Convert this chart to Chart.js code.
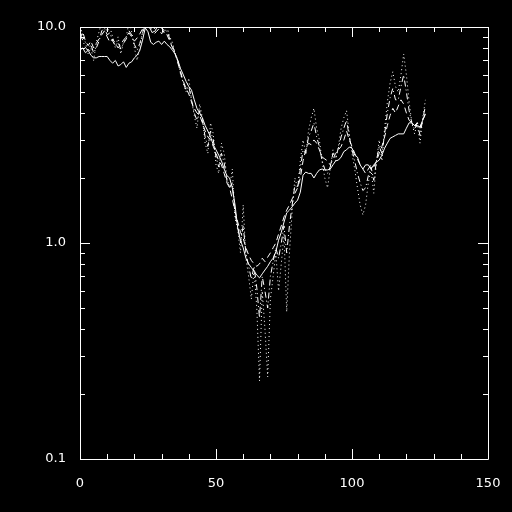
<!DOCTYPE html>
<html>
<head>
<meta charset="utf-8">
<script src="https://cdn.jsdelivr.net/npm/chart.js@4/dist/chart.umd.min.js"></script>
<style>
body { margin: 0; background: #000; }
</style>
</head>
<body>
<canvas id="lineChart" width="512" height="512"></canvas>
<script>
// four traces, sample 0..127, log axis
var solid = [
 7.8, 8.0, 7.6, 7.8, 7.4, 7.2, 7.2, 7.3, 7.3, 7.3,
 7.3, 7.0, 6.8, 7.0, 6.6, 6.7, 6.9, 6.5, 6.8, 6.9,
 7.2, 7.4, 7.8, 8.7, 9.9, 9.5, 8.5, 8.3, 8.5, 8.6,
 8.3, 8.6, 8.3, 8.1, 7.8, 7.5, 7.0, 6.4, 6.0, 5.6,
 5.3, 5.1, 4.6, 4.2, 4.0, 3.8, 3.5, 3.3, 3.1, 2.85,
 2.7, 2.55, 2.4, 2.2, 2.05, 2.0, 1.8, 1.5, 1.17, 1.03,
 0.95, 0.85, 0.8, 0.77, 0.74, 0.71, 0.69, 0.72, 0.75, 0.78,
 0.82, 0.85, 0.91, 1.03, 1.12, 1.25, 1.38, 1.42, 1.47, 1.53,
 1.58, 1.72, 2.06, 2.13, 2.1, 2.1, 2.0, 2.1, 2.18, 2.2,
 2.18, 2.18, 2.2, 2.3, 2.4, 2.42, 2.5, 2.65, 2.7, 2.78,
 2.75, 2.55, 2.5, 2.3, 2.2, 2.3, 2.3, 2.2, 2.3, 2.37,
 2.42, 2.55, 2.75, 2.9, 3.05, 3.1, 3.15, 3.2, 3.2, 3.2,
 3.4, 3.6, 3.6, 3.5, 3.5, 3.45, 3.7, 3.95
]
var dashed = [
 8.8, 9.5, 8.6, 8.2, 8.6, 8.0, 8.4, 8.8, 9.2, 9.6,
 9.0, 8.5, 8.8, 8.4, 8.0, 8.3, 8.7, 9.0, 9.4, 9.0,
 8.6, 8.9, 9.3, 9.8, 10.5, 10.2, 9.7, 9.2, 9.5, 9.8,
 9.3, 9.6, 9.2, 8.6, 8.0, 7.5, 6.8, 6.2, 5.6, 5.2,
 4.9, 4.5, 4.2, 4.0, 3.9, 3.6, 3.3, 3.1, 3.0, 2.8,
 2.6, 2.4, 2.3, 2.1, 1.9, 1.8, 1.6, 1.4, 1.25, 1.12,
 1.05, 0.95, 0.88, 0.83, 0.8, 0.78, 0.8, 0.85, 0.82, 0.86,
 0.9, 0.95, 1.0, 1.1, 1.2, 1.32, 1.42, 1.5, 1.6, 1.7,
 1.8, 2.0, 2.4, 2.7, 2.9, 2.85, 3.0, 2.9, 2.7, 2.5,
 2.45, 2.4, 2.3, 2.45, 2.6, 2.7, 2.8, 3.0, 3.3, 3.0,
 2.8, 2.6, 2.45, 2.3, 2.2, 2.1, 2.2, 2.3, 2.25, 2.4,
 2.6, 2.8, 3.1, 3.5, 3.9, 4.2, 4.0, 4.3, 4.6, 4.4,
 4.0, 3.7, 3.6, 3.5, 3.6, 3.4, 3.7, 4.0
]
var dashdot = [
 9.2, 8.7, 8.0, 7.8, 8.3, 7.6, 8.0, 8.6, 9.6, 9.9,
 9.2, 9.4, 8.6, 8.2, 8.5, 7.9, 8.4, 8.8, 9.6, 9.2,
 8.3, 7.8, 8.4, 9.4, 10.2, 10.4, 9.9, 9.3, 9.8, 10.3,
 9.9, 9.4, 9.6, 8.8, 8.2, 7.5, 6.9, 6.1, 5.5, 5.1,
 5.3, 4.6, 4.0, 3.7, 4.1, 3.7, 3.1, 2.8, 3.3, 3.0,
 2.5, 2.25, 2.6, 2.35, 1.95, 1.8, 1.9, 1.35, 1.2, 1.0,
 1.2, 0.9, 0.78, 0.68, 0.78, 0.62, 0.45, 0.7, 0.6, 0.5,
 0.7, 0.82, 0.95, 0.85, 1.0, 1.2, 0.9, 1.2, 1.5, 1.85,
 1.8, 2.2, 2.7, 2.6, 3.1, 3.3, 3.6, 3.1, 2.8, 2.4,
 2.2, 2.1, 2.25, 2.6, 2.5, 2.75, 3.1, 3.4, 3.7, 3.1,
 2.7, 2.4, 2.1, 1.9, 1.75, 1.8, 2.05, 2.25, 1.95, 2.4,
 2.8, 2.6, 3.2, 4.0, 4.7, 5.2, 4.6, 4.6, 5.3, 6.0,
 5.0, 4.1, 3.6, 3.35, 3.6, 3.15, 3.75, 4.3
]
var dotted = [
 10.5, 9.0, 8.5, 7.5, 8.0, 7.0, 8.5, 9.5, 10.5, 11,
 9.5, 10, 9.0, 8.0, 9.0, 7.5, 8.5, 9.0, 10.5, 9.5,
 8.0, 7.0, 8.0, 9.5, 10.5, 11, 10.5, 9.5, 10.5, 11,
 10.5, 9.5, 10, 9.0, 8.5, 7.5, 7.0, 6.0, 5.5, 5.0,
 5.8, 4.6, 3.9, 3.4, 4.4, 3.8, 2.9, 2.6, 3.6, 3.2,
 2.3, 2.1, 2.9, 2.6, 2.0, 1.8, 2.2, 1.3, 1.15, 0.9,
 1.5, 0.85, 0.7, 0.55, 0.75, 0.5, 0.23, 0.6, 0.4, 0.24,
 0.55, 0.7, 0.9, 0.6, 0.8, 1.1, 0.48, 0.9, 1.4, 2.0,
 1.8, 2.4, 3.0, 2.6, 3.3, 3.8, 4.2, 3.4, 3.0, 2.4,
 2.0, 1.8, 2.2, 2.7, 2.4, 2.8, 3.4, 3.8, 4.1, 3.2,
 2.6, 2.2, 1.8, 1.5, 1.35, 1.5, 1.9, 2.2, 1.7, 2.4,
 3.0, 2.4, 3.4, 4.5, 5.5, 6.2, 5.3, 5.0, 6.0, 7.5,
 6.0, 4.5, 3.6, 3.2, 3.6, 2.9, 3.8, 4.6
]
var samples = solid.map(function(v, i){ return i })
var xTicks = [0, 50, 100, 150]
var yTicks = [0.1, 1, 10]

// box round the plot with inward ticks on all four sides
var frame = {
    id: 'frame',
    afterDraw: function(chart){
        var ctx = chart.ctx
        var a = chart.chartArea
        var xs = chart.scales.x
        var ys = chart.scales.y
        ctx.save()
        ctx.strokeStyle = '#fff'
        ctx.lineWidth = 1
        ctx.beginPath()
        ctx.rect(Math.round(a.left) + 0.5, Math.round(a.top) + 0.5, Math.round(a.right - a.left), Math.round(a.bottom - a.top))
        for (var v = 0; v <= 150; v += 10){
            var px = Math.round(xs.getPixelForValue(v)) + 0.5
            var len = (v % 50 == 0) ? 10 : 5
            ctx.moveTo(px, a.bottom); ctx.lineTo(px, a.bottom - len)
            ctx.moveTo(px, a.top); ctx.lineTo(px, a.top + len)
        }
        for (var d = 0.1; d < 10; d *= 10){
            for (var m = 1; m <= 10; m++){
                var val = d * m
                var py = Math.round(ys.getPixelForValue(val)) + 0.5
                var l2 = (m == 1 || m == 10) ? 10 : 5
                ctx.moveTo(a.left, py); ctx.lineTo(a.left + l2, py)
                ctx.moveTo(a.right, py); ctx.lineTo(a.right - l2, py)
            }
        }
        ctx.stroke()
        ctx.restore()
    }
}

function line(data, dash){
    return {
        data: data,
        borderColor: '#fff',
        borderWidth: 1,
        borderDash: dash,
        pointRadius: 0,
        fill: false,
        tension: 0
    }
}

var tickFont = { family: 'DejaVu Sans', size: 13 }

var ctx = document.getElementById('lineChart').getContext('2d')
var lineChart = new Chart(ctx, {
    type: 'line',
    data: {
        labels: samples,
        datasets: [
            line(dotted, [1, 3]),
            line(dashdot, [6, 3, 1, 3]),
            line(dashed, [6, 4]),
            line(solid, [])
        ]
    },
    options: {
        responsive: false,
        animation: false,
        layout: { padding: { top: 27, right: 24, left: 0, bottom: 0 } },
        plugins: { legend: { display: false }, tooltip: { enabled: false } },
        scales: {
            x: {
                type: 'linear',
                min: 0, max: 150,
                grid: { display: false },
                border: { display: false },
                afterBuildTicks: function(s){ s.ticks = xTicks.map(function(v){ return { value: v } }) },
                afterFit: function(s){ s.height = 53 },
                ticks: { color: '#fff', font: tickFont, padding: 9, maxRotation: 0,
                    callback: function(v){ return String(v) } }
            },
            y: {
                type: 'logarithmic',
                min: 0.1, max: 10,
                grid: { display: false },
                border: { display: false },
                afterBuildTicks: function(s){ s.ticks = yTicks.map(function(v){ return { value: v } }) },
                afterFit: function(s){ s.width = 80 },
                ticks: { color: '#fff', font: tickFont, padding: 6,
                    callback: function(v){ return v.toFixed(1) } }
            }
        }
    },
    plugins: [frame]
})
</script>
</body>
</html>
